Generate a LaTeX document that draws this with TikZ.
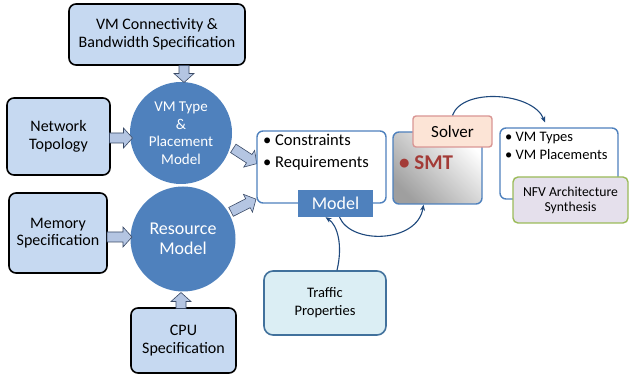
\documentclass[tikz,border=0pt]{standalone}
\usepackage{fontspec}
\setmainfont{Carlito}
\usetikzlibrary{arrows.meta}
\definecolor{specfill}{HTML}{C6D9F1}
\definecolor{modelblue}{HTML}{4F81BD}
\definecolor{arrowfill}{HTML}{B4C5E2}
\definecolor{arrowline}{HTML}{3A4A66}
\definecolor{trafficfill}{HTML}{DBEEF4}
\definecolor{trafficline}{HTML}{41719C}
\definecolor{solverfill}{HTML}{FCE4D6}
\definecolor{solverline}{HTML}{D99694}
\definecolor{nfvfill}{HTML}{E5E0EC}
\definecolor{nfvline}{HTML}{9BBB59}
\definecolor{smtred}{HTML}{A33B37}
\definecolor{flowline}{HTML}{1F497D}
\tikzset{
  specbox/.style={draw=black, line width=1.6pt, fill=specfill, rounded corners=7pt,
    align=center, font=\fontsize{16}{17.5}\selectfont, inner sep=0pt},
  modelcircle/.style={circle, fill=modelblue, text=white, align=center, inner sep=0pt},
  blockarrow/.style={draw=arrowline, line width=0.6pt, fill=arrowfill, line join=miter},
  whitebox/.style={draw=modelblue, line width=1.4pt, fill=white, rounded corners=6pt, inner sep=0pt},
  flow/.style={draw=flowline, line width=1.1pt, -{Stealth[length=6pt,width=5pt]}},
}
% block arrow: centre, direction (degrees), total length
\newcommand{\blockarr}[3]{%
  \draw[blockarrow, shift={(#1)}, rotate=#2]
    ({-#3/2},5) -- ({#3/2-9},5) -- ({#3/2-9},10) -- ({#3/2},0)
    -- ({#3/2-9},-10) -- ({#3/2-9},-5) -- ({-#3/2},-5) -- cycle;}
\begin{document}
\begin{tikzpicture}[x=1pt,y=1pt]
\useasboundingbox (0,0) rectangle (629,-379);

% input specifications
\node[specbox, minimum width=176pt, minimum height=61pt] (conn) at (157,-34.5)
  {VM Connectivity \&\\Bandwidth Specification};
\node[specbox, minimum width=103pt, minimum height=77pt] (topo) at (58.5,-136.5)
  {Network\\Topology};
\node[specbox, minimum width=98pt, minimum height=80pt] (mem) at (58,-233)
  {Memory\\Specification};
\node[specbox, minimum width=105pt, minimum height=65pt] (cpu) at (183.5,-340.5)
  {CPU\\Specification};

% models
\node[modelcircle, minimum size=102pt, font=\fontsize{15}{17.5}\selectfont] (vmtype) at (181,-133)
  {VM Type\\\&\\Placement\\Model};
\node[modelcircle, minimum size=105pt, font=\fontsize{18}{20}\selectfont] (res) at (183,-239)
  {Resource\\Model};

% block arrows into the models and the model content
\blockarr{184,-74}{-90}{17}
\blockarr{121,-138}{0}{23}
\blockarr{119.5,-237}{0}{25}
\blockarr{181,-300.5}{90}{16}
\blockarr{245,-156}{-33}{28}
\blockarr{243.5,-205.5}{27}{28}

% model content
\node[whitebox, minimum width=129pt, minimum height=72pt] (cons) at (321.5,-167) {};
\node[anchor=north west, align=left, inner sep=0pt, font=\fontsize{16.5}{22}\selectfont]
  (constext) at (263,-134) {\textbullet\ Constraints\\\textbullet\ Requirements};
\node[fill=modelblue, text=white, minimum width=75pt, minimum height=27pt, inner sep=0pt,
  font=\fontsize{18}{18}\selectfont] (model) at (335.5,-203.5) {Model};

% solver
\node[draw=modelblue, line width=1.4pt, rounded corners=6pt, minimum width=89pt,
  minimum height=72pt, inner sep=0pt, left color=gray!75, right color=white,
  shading angle=135] (smt) at (437.5,-168) {};
\node[text=smtred, anchor=west, inner sep=0pt, font=\fontsize{21}{22}\bfseries]
  (smttext) at (399,-163) {\textbullet\ SMT};
\node[draw=solverline, line width=1.4pt, fill=solverfill, rounded corners=3pt,
  minimum width=79pt, minimum height=31pt, inner sep=0pt,
  font=\fontsize{17}{17}\selectfont] (solver) at (452.5,-131.5) {Solver};

% result
\node[whitebox, minimum width=118pt, minimum height=71pt] (vmt) at (559,-163.5) {};
\node[anchor=north west, align=left, inner sep=0pt, font=\fontsize{14.5}{18}\selectfont]
  (vmttext) at (505,-132) {\textbullet\ VM Types\\\textbullet\ VM Placements};
\node[draw=nfvline, line width=1.4pt, fill=nfvfill, rounded corners=5pt,
  minimum width=115pt, minimum height=46pt, inner sep=0pt, align=center,
  font=\fontsize{13.7}{15}\selectfont] (nfv) at (570.5,-200)
  {NFV Architecture\\Synthesis};

% traffic properties
\node[draw=trafficline, line width=1.6pt, fill=trafficfill, rounded corners=9pt,
  minimum width=122pt, minimum height=64pt, inner sep=0pt, align=center,
  font=\fontsize{14.5}{18}\selectfont] (traffic) at (325,-303) {Traffic\\Properties};

% flow connectors
\coordinate (trafficout) at ([xshift=12pt]traffic.north);
\coordinate (modelin) at ([xshift=-10pt]model.south);
\coordinate (modelout) at ([xshift=4pt]model.south);
\coordinate (smtin) at ([xshift=-14pt]smt.south);
\coordinate (vmtin) at ([xshift=-14pt,yshift=5pt]vmt.north);
\draw[flow] (trafficout) .. controls +(6,25) and +(12,-8) .. (modelin);
\draw[flow] (modelout) .. controls +(12,-28) and +(-6,-38) .. (smtin);
\draw[flow] (solver.north) .. controls +(10,28) and +(-12,30) .. (vmtin);
\end{tikzpicture}
\end{document}
